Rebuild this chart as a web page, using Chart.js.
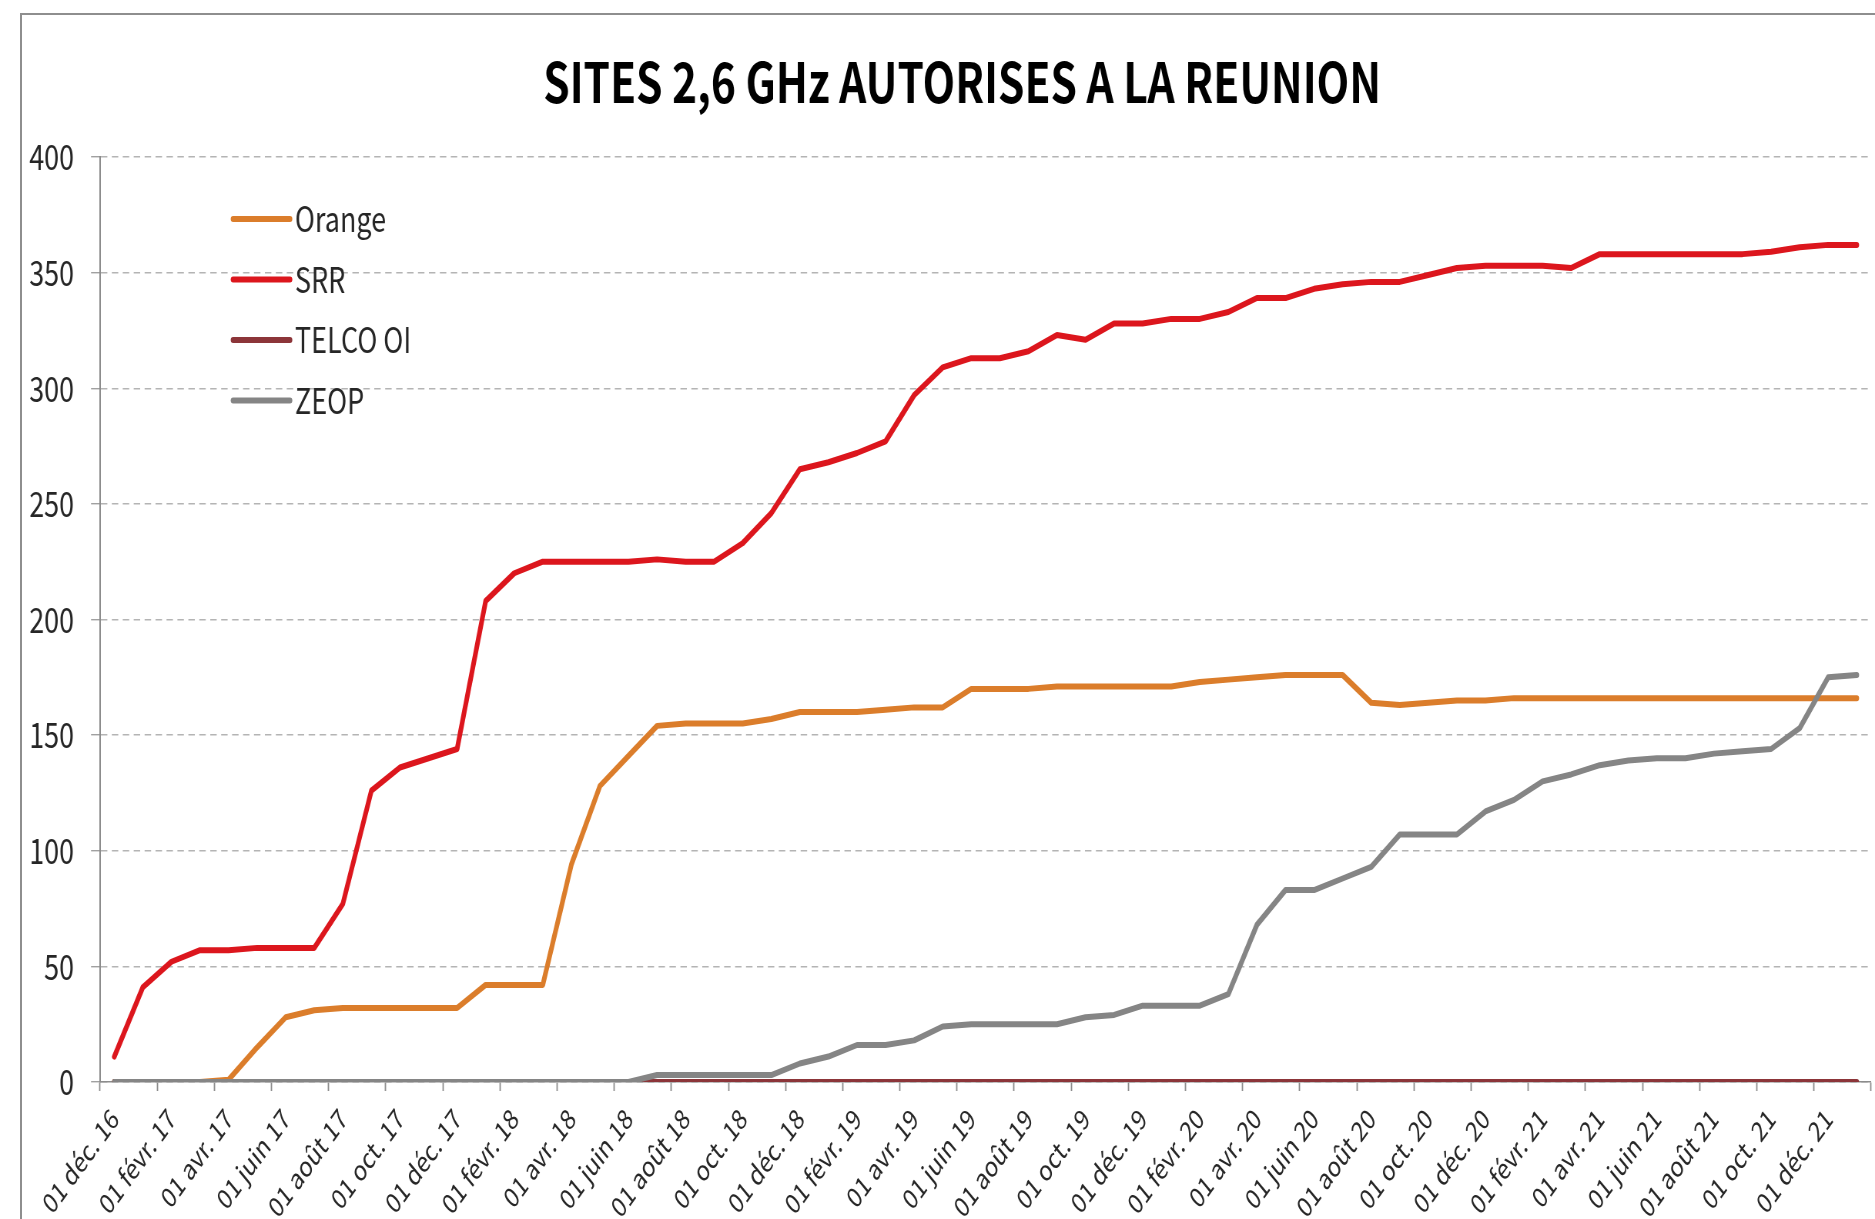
<!DOCTYPE html>
<html>
<head>
<meta charset="utf-8">
<script src="https://cdn.jsdelivr.net/npm/chart.js@4.4.1/dist/chart.umd.min.js"></script>
<style>
  html, body { margin: 0; padding: 0; background: #ffffff; overflow: hidden; }
  #wrap { position: relative; width: 1875px; height: 1219px; overflow: hidden; }
  #frame { position: absolute; left: 20px; top: 13px; right: -4px; bottom: -4px;
           border-left: 2px solid #8e8e8e; border-top: 2px solid #8e8e8e; }
  #c { position: absolute; left: 0; top: 0; }
</style>
</head>
<body>
<div id="wrap">
  <div id="frame"></div>
  <!-- the source picture is a horizontally compressed spreadsheet chart:
       the canvas bitmap is drawn wider and displayed at 1875px -->
  <canvas id="c" width="2435" height="1219" style="width:1875px;height:1219px;"></canvas>
</div>
<script>
// ---------- DATA ----------
const chartTitle = 'SITES 2,6 GHz AUTORISES A LA REUNION';

const categories = [
  '01 déc. 16',
  '01 janv. 17','01 févr. 17','01 mars 17','01 avr. 17','01 mai 17','01 juin 17',
  '01 juil. 17','01 août 17','01 sept. 17','01 oct. 17','01 nov. 17','01 déc. 17',
  '01 janv. 18','01 févr. 18','01 mars 18','01 avr. 18','01 mai 18','01 juin 18',
  '01 juil. 18','01 août 18','01 sept. 18','01 oct. 18','01 nov. 18','01 déc. 18',
  '01 janv. 19','01 févr. 19','01 mars 19','01 avr. 19','01 mai 19','01 juin 19',
  '01 juil. 19','01 août 19','01 sept. 19','01 oct. 19','01 nov. 19','01 déc. 19',
  '01 janv. 20','01 févr. 20','01 mars 20','01 avr. 20','01 mai 20','01 juin 20',
  '01 juil. 20','01 août 20','01 sept. 20','01 oct. 20','01 nov. 20','01 déc. 20',
  '01 janv. 21','01 févr. 21','01 mars 21','01 avr. 21','01 mai 21','01 juin 21',
  '01 juil. 21','01 août 21','01 sept. 21','01 oct. 21','01 nov. 21','01 déc. 21',
  '01 janv. 22'
];

const seriesNames = ['Orange', 'SRR', 'TELCO OI', 'ZEOP'];

const orangeSites = [
  0,0,0,0,1,15,28,31,32,32,32,32,32,
  42,42,42,94,128,141,154,155,155,155,157,160,
  160,160,161,162,162,170,170,170,171,171,171,171,
  171,173,174,175,176,176,176,164,163,164,165,165,
  166,166,166,166,166,166,166,166,166,166,166,166,
  166
];

const srrSites = [
  11,41,52,57,57,58,58,58,77,126,136,140,144,
  208,220,225,225,225,225,226,225,225,233,246,265,
  268,272,277,297,309,313,313,316,323,321,328,328,
  330,330,333,339,339,343,345,346,346,349,352,353,
  353,353,352,358,358,358,358,358,358,359,361,362,
  362
];

const telcoSites = [
  0,0,0,0,0,0,0,0,0,0,0,0,0,
  0,0,0,0,0,0,0,0,0,0,0,0,
  0,0,0,0,0,0,0,0,0,0,0,0,
  0,0,0,0,0,0,0,0,0,0,0,0,
  0,0,0,0,0,0,0,0,0,0,0,0,
  0
];

const zeopSites = [
  0,0,0,0,0,0,0,0,0,0,0,0,0,
  0,0,0,0,0,0,3,3,3,3,3,8,
  11,16,16,18,24,25,25,25,25,28,29,33,
  33,33,38,68,83,83,88,93,107,107,107,117,
  122,130,133,137,139,140,140,142,143,144,153,175,
  176
];

const yAxisMin = 0;
const yAxisMax = 400;
const yAxisStep = 50;
const labelEvery = 2;

// ---------- STYLE ----------
const FONT = '"Noto Sans CJK JP", "Noto Sans", sans-serif';
const colors = ['#DB7D2B', '#DC161D', '#8C3539', '#858585'];
const drawOrder = [3, 2, 1, 0];  // lower = drawn on top

const seriesData = [orangeSites, srrSites, telcoSites, zeopSites];

const insideLegend = {
  id: 'insideLegend',
  afterDraw(chart, args, opts) {
    const { ctx, chartArea } = chart;
    ctx.save();
    ctx.font = `${opts.fontSize}px ${opts.family}`;
    ctx.textBaseline = 'middle';
    ctx.textAlign = 'left';
    chart.data.datasets.forEach((ds, i) => {
      const y = chartArea.top + opts.top + i * opts.spacing;
      const x0 = chartArea.left + opts.left;
      ctx.strokeStyle = ds.borderColor;
      ctx.lineWidth = opts.lineWidth;
      ctx.lineCap = 'round';
      ctx.beginPath();
      ctx.moveTo(x0, y);
      ctx.lineTo(x0 + opts.lineLength, y);
      ctx.stroke();
      ctx.fillStyle = opts.color;
      ctx.fillText(ds.label, x0 + opts.lineLength + opts.gap, y);
    });
    ctx.restore();
  }
};

const gridGray = '#b4b4b4';
const axisGray = '#8c8c8c';

new Chart(document.getElementById('c'), {
  type: 'line',
  data: {
    labels: categories,
    datasets: seriesNames.map((name, i) => ({
      label: name,
      data: seriesData[i],
      borderColor: colors[i],
      backgroundColor: colors[i],
      borderWidth: 6,
      pointRadius: 0,
      pointHoverRadius: 0,
      tension: 0,
      fill: false,
      borderJoinStyle: 'round',
      borderCapStyle: 'round',
      order: drawOrder[i],
      yAxisID: 'y'
    }))
  },
  plugins: [insideLegend],
  options: {
    responsive: false,
    animation: false,
    devicePixelRatio: 1,
    layout: { padding: { left: 30, right: -33.8, top: 0, bottom: 0 } },
    plugins: {
      legend: { display: false },
      tooltip: { enabled: false },
      title: {
        display: true,
        text: chartTitle,
        color: '#000000',
        font: { family: FONT, size: 55, weight: 'bold', lineHeight: 1.2 },
        padding: { top: 49, bottom: 42 }
      },
      insideLegend: {
        left: 172.7, top: 62, spacing: 60.5, lineLength: 74, gap: 6.5, lineWidth: 6,
        fontSize: 35, family: FONT, color: '#262626'
      }
    },
    scales: {
      x: {
        type: 'category',
        offset: true,
        grid: {
          offset: true,
          drawOnChartArea: false,
          drawTicks: true,
          tickLength: 9,
          tickWidth: 1.8,
          tickColor: (c) => (c.type !== 'tick' || c.index % labelEvery === 0) ? axisGray : 'rgba(0,0,0,0)'
        },
        border: { display: true, color: axisGray, width: 1.5 },
        ticks: {
          autoSkip: false,
          minRotation: 47,
          maxRotation: 47,
          padding: 11,
          color: '#262626',
          font: { family: FONT, size: 28 },
          callback: function (value, index) {
            return index % labelEvery === 0 ? this.getLabelForValue(value) : '';
          }
        },
        afterFit: (scale) => { scale.height = 137; scale.paddingLeft = 0; scale.paddingRight = 0; }
      },
      y: {
        min: yAxisMin,
        max: yAxisMax,
        grid: {
          color: gridGray,
          lineWidth: 1.4,
          drawTicks: true,
          tickLength: 11.7,
          tickColor: '#a0a0a0',
          tickWidth: 1.4
        },
        border: { display: true, color: axisGray, width: 2, dash: [8.4, 5.8] },
        ticks: {
          stepSize: yAxisStep,
          padding: 22,
          color: '#262626',
          font: { family: FONT, size: 35 }
        },
        afterFit: (scale) => { scale.width = 99.9; }
      },
      // empty spacer on the right so the title is centred like the original
      spacer: {
        type: 'linear',
        position: 'right',
        display: true,
        grid: { display: false },
        border: { display: false },
        ticks: { display: false },
        afterFit: (scale) => { scale.width = 38.9; }
      }
    }
  }
});
</script>
</body>
</html>
